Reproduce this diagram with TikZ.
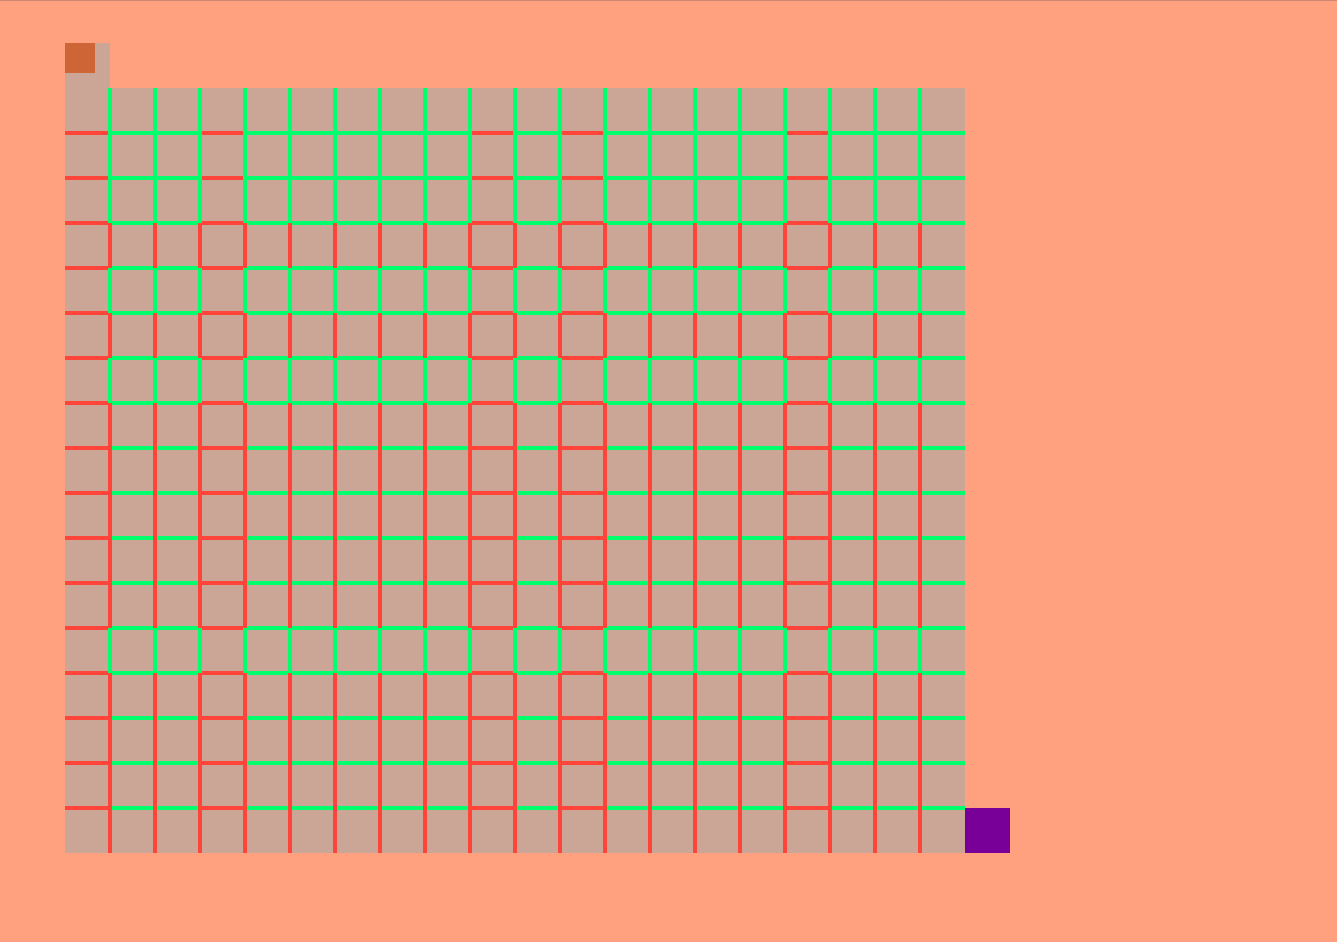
\documentclass[tikz,border=0pt]{standalone}
\definecolor{bgsalmon}{RGB}{255,160,126}
\definecolor{cellfill}{RGB}{203,166,151}
\definecolor{wallred}{RGB}{255,68,58}
\definecolor{passgreen}{RGB}{0,255,108}
\definecolor{startbox}{RGB}{205,101,55}
\definecolor{goalbox}{RGB}{120,0,153}
\definecolor{topedge}{RGB}{205,135,115}
\tikzset{
	wall/.style={wallred, line width=0.105cm},
	open/.style={passgreen, line width=0.105cm}
}
\begin{document}
\begin{tikzpicture}[x=0.03cm,y=-0.03cm]
\useasboundingbox (0,0) rectangle (1337,942);
\fill[bgsalmon] (0,0) rectangle (1337,942);
\draw[topedge, line width=0.03cm] (0,0.5) -- (1337,0.5);
\fill[cellfill] (65,88) rectangle (965,853);
\fill[cellfill] (65,43) rectangle (110,88);
\foreach \r in {1,...,16}
{
	\draw[open] (65,88+45*\r) -- (965,88+45*\r);
	\foreach \c in {0,3,9,11,16}
	{
		\draw[wall] (65+45*\c,88+45*\r) -- ++(45,0);
	}
}
\foreach \c in {1,...,19}
{
	\draw[open] (65+45*\c,88) -- (65+45*\c,853);
	\foreach \r in {3,5,7,8,9,10,11,13,14,15,16}
	{
		\draw[wall] (65+45*\c,88+45*\r) -- ++(0,45);
	}
}
\fill[startbox] (65,43) rectangle (95,73);
\fill[goalbox] (965,808) rectangle (1010,853);
\end{tikzpicture}
\end{document}
